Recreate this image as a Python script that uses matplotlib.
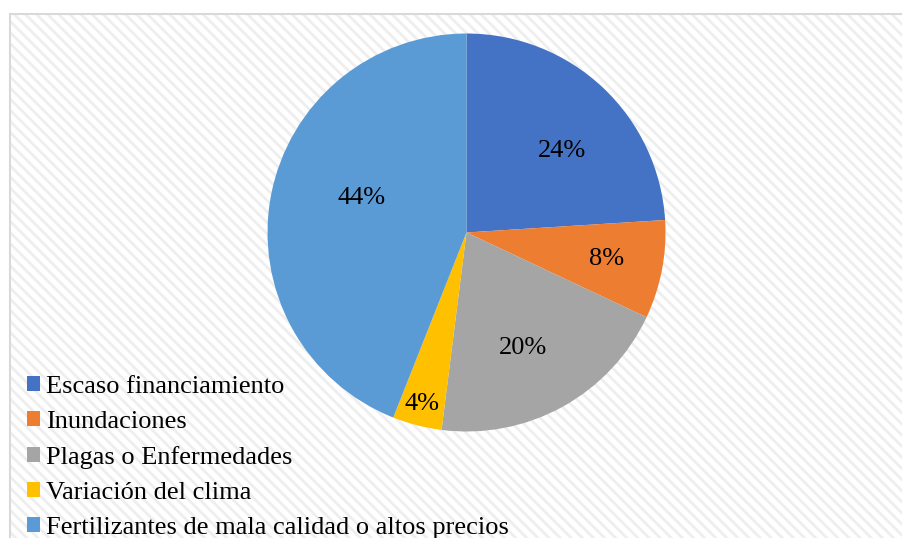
import numpy as np
import matplotlib.pyplot as plt
from matplotlib.patches import Rectangle

plt.rcParams['font.family'] = ['Liberation Serif', 'DejaVu Serif']
plt.rcParams['hatch.linewidth'] = 2.0

categories = ['Escaso financiamiento', 'Inundaciones', 'Plagas o Enfermedades',
              'Variación del clima', 'Fertilizantes de mala calidad o altos precios']
values = [24, 8, 20, 4, 44]
colors = ['#4472c4', '#ed7d31', '#a5a5a5', '#ffc000', '#5b9bd5']
# label placement like Excel "best fit": distance from centre and angle shift (deg)
label_dist = [0.64, 0.716, 0.632, 0.876, 0.561]
label_shift = [-5.3, 1.3, -2.1, -0.4, -8.8]

W, H = 903, 538
fig = plt.figure(figsize=(W / 100, H / 100), dpi=100)

# hatched chart area background and border
bg = Rectangle((10 / W, 0), 1, 1 - 14 / H, transform=fig.transFigure, zorder=-10,
               facecolor='white', edgecolor='#eeeeee', hatch='\\\\\\', linewidth=0)
fig.patches.append(bg)
border = Rectangle((10 / W, -0.01), 1, 1.01 - 14 / H, transform=fig.transFigure, zorder=-9,
                   facecolor='none', edgecolor='#d9d9d9', linewidth=1.5)
fig.patches.append(border)

cx, cy, r = 466.5, 232.5, 199
ax = fig.add_axes([(cx - r) / W, (H - cy - r) / H, 2 * r / W, 2 * r / H])
wedges, texts, autotexts = ax.pie(values, colors=colors, startangle=90, counterclock=False,
                                  autopct='%1.0f%%', textprops={'fontsize': 19})
for w, t, d, s in zip(wedges, autotexts, label_dist, label_shift):
    ang = np.deg2rad((w.theta1 + w.theta2) / 2 + s)
    # small downward nudge so the glyphs sit where Excel puts them
    t.set_position((d * np.cos(ang), d * np.sin(ang) - 0.015))
ax.set_xlim(-1, 1)
ax.set_ylim(-1, 1)

fig.legend(wedges, categories, loc='upper left', bbox_to_anchor=(27 / W, 1 - 376 / H),
           frameon=False, fontsize=19, handlelength=0.5, handleheight=0.5,
           handletextpad=0.23, labelspacing=0.49, borderpad=0, borderaxespad=0)

fig.savefig('out.png', dpi=100)
